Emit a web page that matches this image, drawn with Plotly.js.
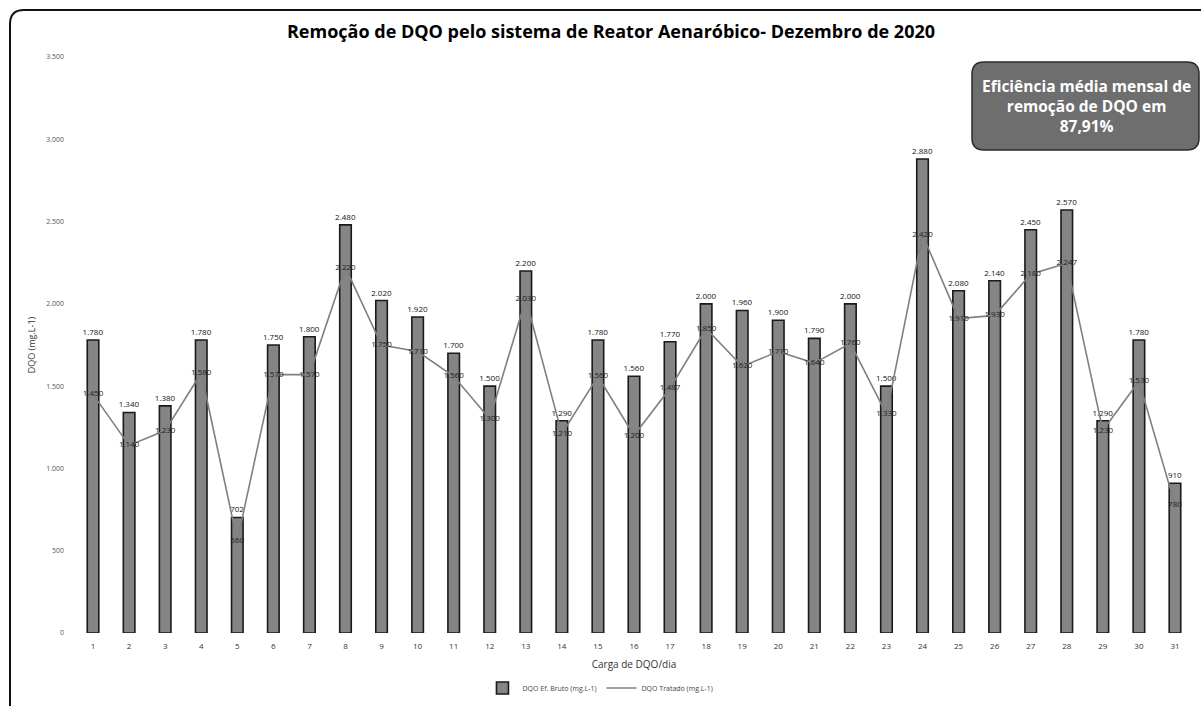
<!DOCTYPE html>
<html>
<head>
<meta charset="utf-8">
<script src="https://cdn.plot.ly/plotly-3.0.1.min.js"></script>
<style>html,body{margin:0;padding:0;background:#fff;}#chart{width:1201px;height:706px;}</style>
</head>
<body>
<div id="chart"></div>
<script>
// ---- data ----
const days = ["1","2","3","4","5","6","7","8","9","10","11","12","13","14","15","16","17","18","19","20","21","22","23","24","25","26","27","28","29","30","31"];
const dqoBruto = [1780,1340,1380,1780,702,1750,1800,2480,2020,1920,1700,1500,2200,1290,1780,1560,1770,2000,1960,1900,1790,2000,1500,2880,2080,2140,2450,2570,1290,1780,910];
const dqoTratado = [1450,1140,1230,1580,560,1570,1570,2220,1750,1710,1560,1300,2030,1210,1560,1200,1487,1850,1620,1710,1640,1760,1330,2420,1910,1930,2180,2247,1230,1530,780];
const yTicks = [0,500,1000,1500,2000,2500,3000,3500];
const titleText = "Remoção de DQO pelo sistema de Reator Aenaróbico- Dezembro de 2020";
const boxText = "Eficiência média mensal de<br>remoção de DQO em<br>87,91%";
const nameBruto = "DQO Ef. Bruto (mg.L-1)";
const nameTratado = "DQO Tratado (mg.L-1)";

// ---- geometry helpers (pixel -> paper) ----
const W = 1201, H = 706;
const M = {l:75, r:8, t:57, b:73, autoexpand: false};
const pw = W - M.l - M.r, ph = H - M.t - M.b;
const px = v => (v - M.l) / pw;
const py = v => 1 - (v - M.t) / ph;

function roundRect(x0, y0, x1, y1, r) {
  return `M ${px(x0+r)} ${py(y0)} L ${px(x1-r)} ${py(y0)} Q ${px(x1)} ${py(y0)} ${px(x1)} ${py(y0+r)} ` +
         `L ${px(x1)} ${py(y1-r)} Q ${px(x1)} ${py(y1)} ${px(x1-r)} ${py(y1)} ` +
         `L ${px(x0+r)} ${py(y1)} Q ${px(x0)} ${py(y1)} ${px(x0)} ${py(y1-r)} ` +
         `L ${px(x0)} ${py(y0+r)} Q ${px(x0)} ${py(y0)} ${px(x0+r)} ${py(y0)} Z`;
}
const borderPath = `M ${px(10)} ${py(706)} L ${px(10)} ${py(24)} Q ${px(10)} ${py(10)} ${px(24)} ${py(10)} L ${px(1201)} ${py(10)}`;

const font = "Open Sans, Noto Sans, sans-serif";

const traces = [
  {
    type: "bar", x: days, y: dqoBruto, name: nameBruto,
    width: 0.32,
    marker: {color: "#858585", line: {color: "#1a1a1a", width: 1.6}},
    texttemplate: "%{y:,d}", textposition: "outside", cliponaxis: false, constraintext: "none",
    textfont: {family: font, size: 8, color: "#111"}
  },
  {
    type: "scatter", mode: "lines+text", x: days, y: dqoTratado, name: nameTratado,
    line: {color: "#7f7f7f", width: 1.6}, cliponaxis: false,
    texttemplate: "%{y:,d}", textposition: "middle center",
    textfont: {family: font, size: 8, color: "#222"}
  }
];

const layout = {
  width: W, height: H,
  margin: M,
  paper_bgcolor: "#fff", plot_bgcolor: "#fff",
  separators: ",.",
  font: {family: font, color: "#333"},
  title: {text: "<b>" + titleText + "</b>", font: {family: font, size: 18, color: "#000"}, x: 611 / W, xanchor: "center", xref: "container", y: 0.955, yanchor: "middle"},
  bargap: 0.5,
  xaxis: {
    type: "category", tickvals: days, ticktext: days, automargin: false,
    range: [-0.5, days.length - 0.5],
    showgrid: false, zeroline: false, showline: false, ticks: "",
    tickfont: {family: font, size: 8, color: "#333"},
    ticklabelstandoff: 7,
    title: {text: "Carga de DQO/dia", font: {family: font, size: 10, color: "#333"}, standoff: 10}
  },
  yaxis: {
    range: [0, 3500], tickvals: yTicks, tickformat: ",d", automargin: false,
    showgrid: false, zeroline: false, showline: false, ticks: "",
    tickfont: {family: font, size: 7, color: "#555"},
    ticklabelstandoff: 10,
    title: {text: "DQO (mg.L-1)", font: {family: font, size: 9, color: "#333"}, standoff: 8}
  },
  legend: {
    orientation: "h", x: 0.47, xanchor: "center", y: py(688), yanchor: "middle",
    font: {family: font, size: 7, color: "#444"}
  },
  shapes: [
    {type: "path", xref: "paper", yref: "paper", path: borderPath, line: {color: "#111", width: 2}, layer: "above"},
    {type: "path", xref: "paper", yref: "paper", path: roundRect(972, 62, 1199, 150, 12), fillcolor: "#6e6e6e", line: {color: "#2a2a2a", width: 1.5}, layer: "above"}
  ],
  annotations: [
    {xref: "paper", yref: "paper", x: px(1086), y: py(106), xanchor: "center", yanchor: "middle",
     text: "<b>" + boxText + "</b>", showarrow: false, align: "center",
     font: {family: font, size: 15.5, color: "#fff"}}
  ]
};

Plotly.newPlot("chart", traces, layout, {displayModeBar: false, staticPlot: true});
</script>
</body>
</html>
